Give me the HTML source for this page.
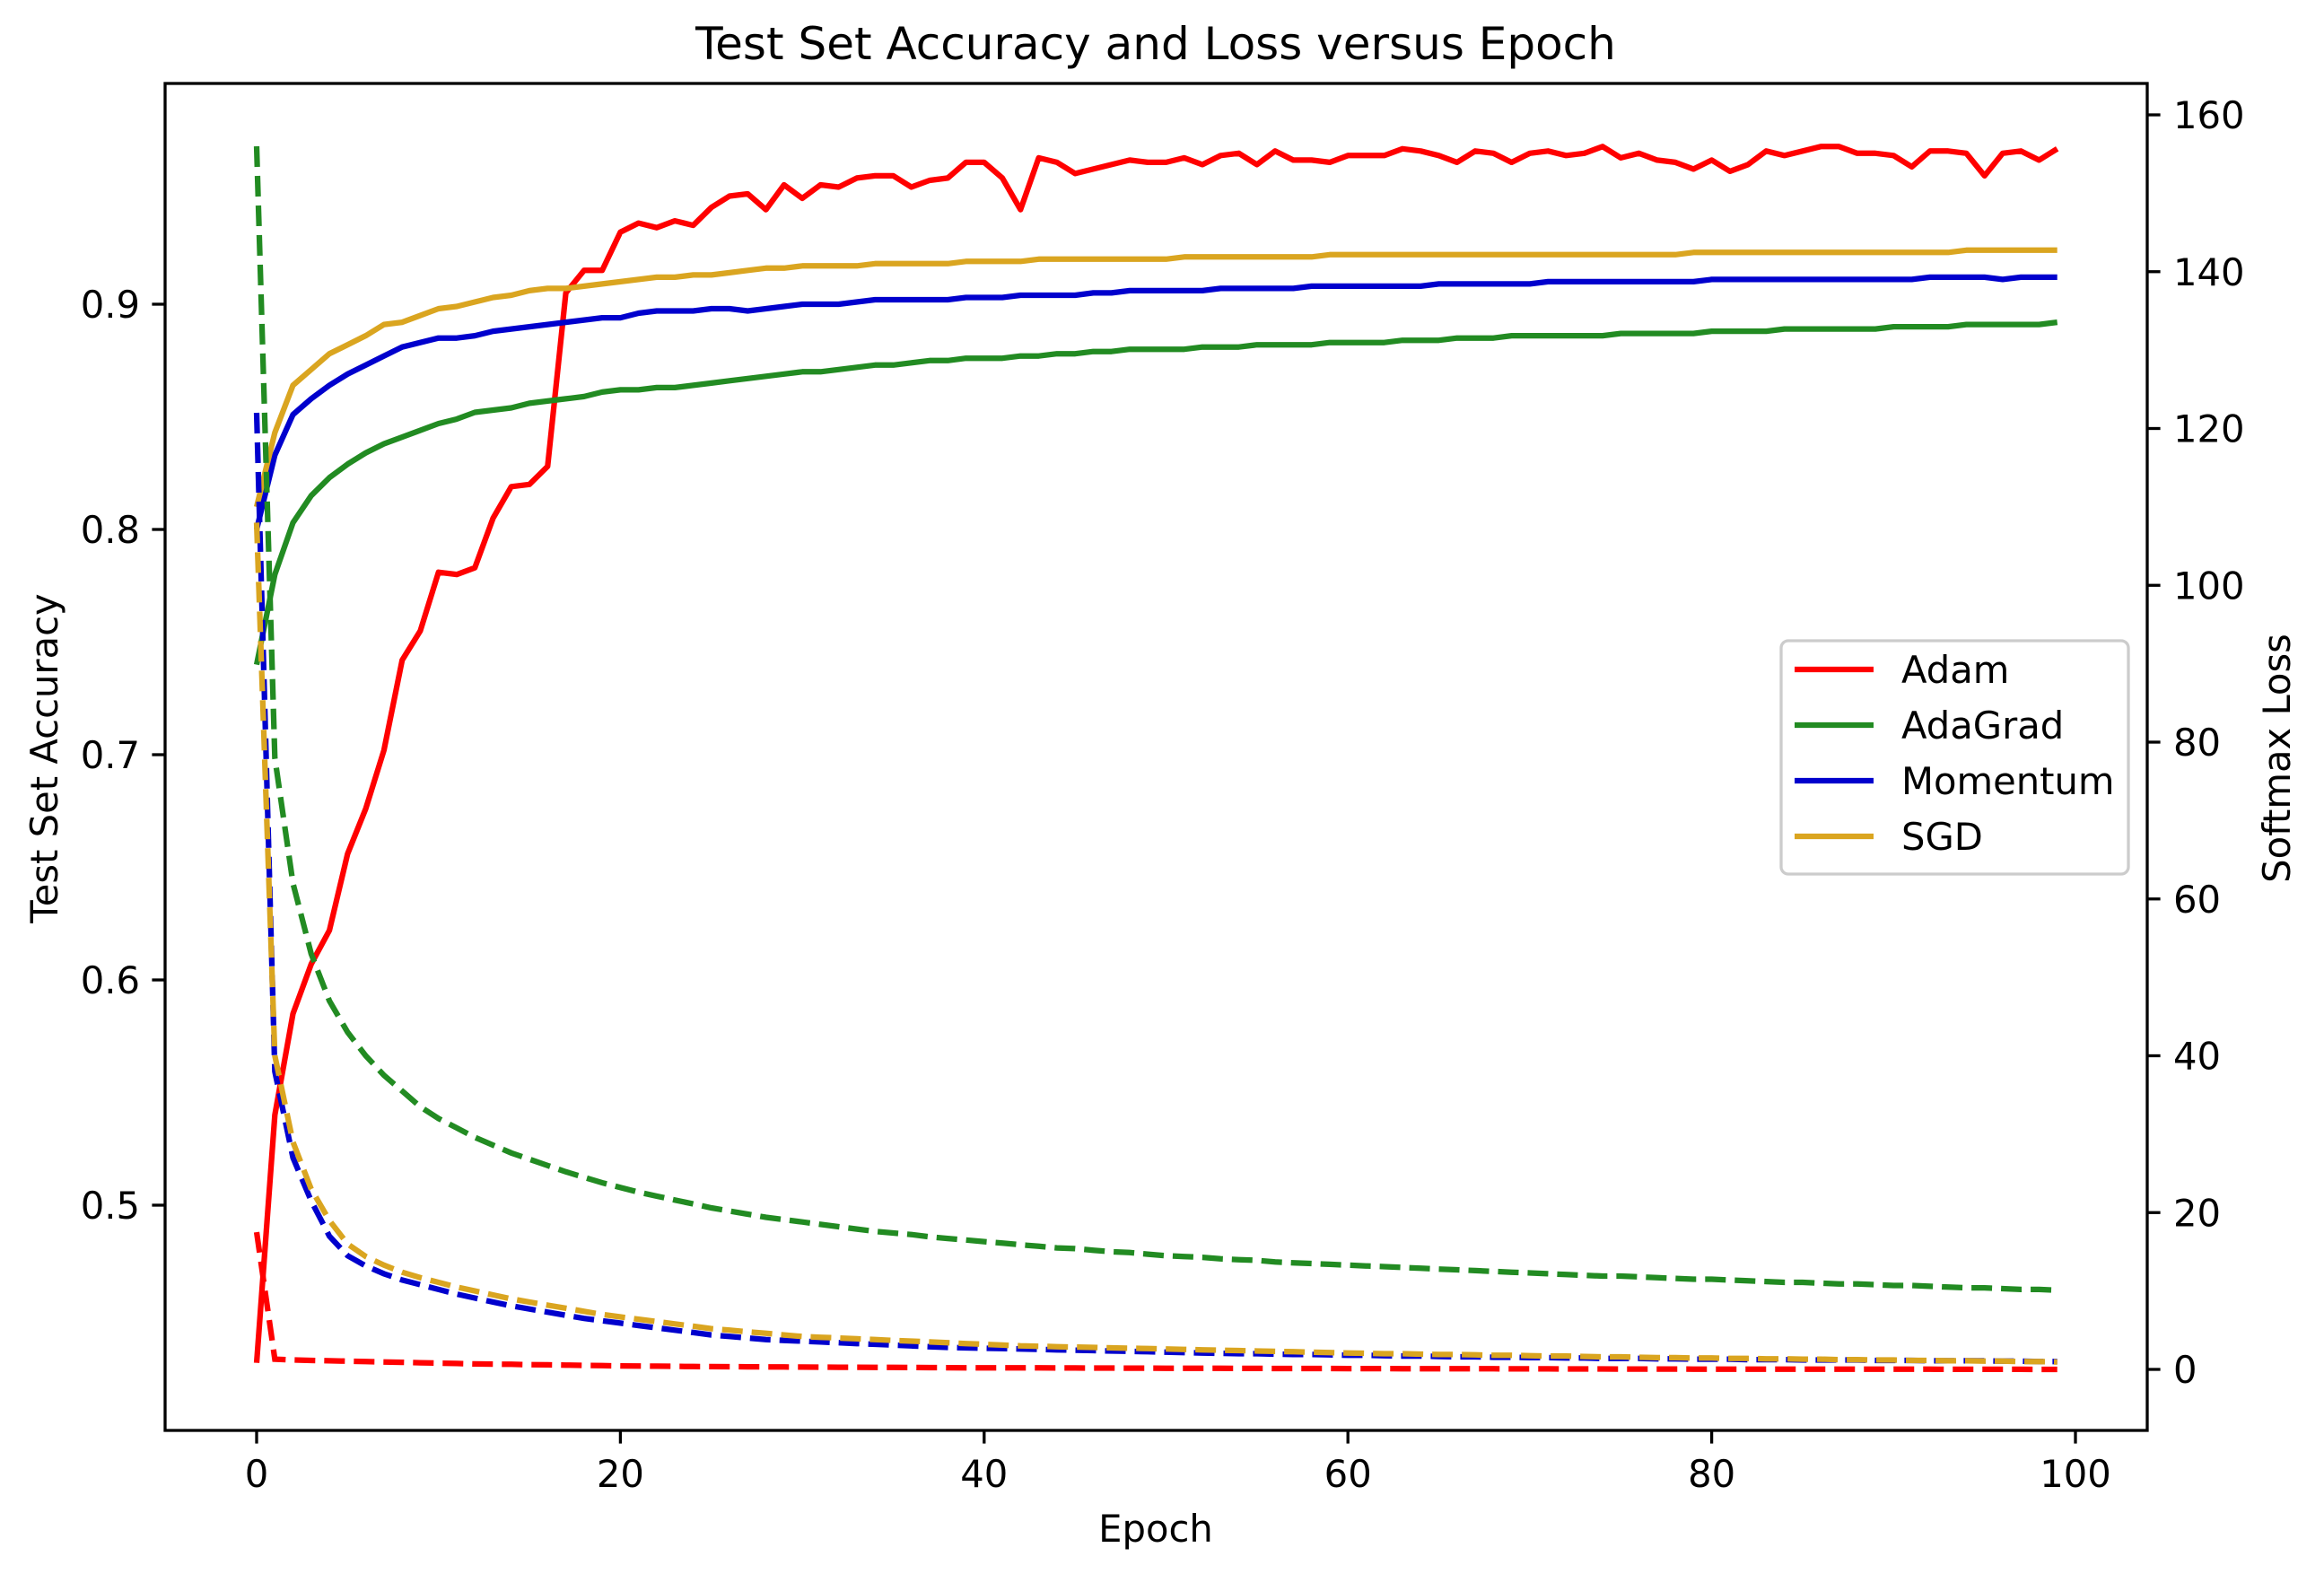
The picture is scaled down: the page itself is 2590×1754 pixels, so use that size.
<!DOCTYPE html>
<html><head><meta charset="utf-8"><style>
html,body{margin:0;padding:0;background:#fff;}
svg{display:block;font-family:"DejaVu Sans","Liberation Sans",sans-serif;}
</style></head><body>
<svg id="chart" width="2590" height="1754" viewBox="0 0 2590 1754" xmlns="http://www.w3.org/2000/svg">
<rect x="0" y="0" width="2590" height="1754" fill="#fff"/>
<text x="1288" y="66" font-size="50" text-anchor="middle">Test Set Accuracy and Loss versus Epoch</text>
<g id="plot"></g>
<text x="1288" y="1718" font-size="41.7" text-anchor="middle">Epoch</text>
<text x="0" y="0" font-size="41.7" text-anchor="middle" transform="translate(64,845) rotate(-90)">Test Set Accuracy</text>
<text x="0" y="0" font-size="41.7" text-anchor="middle" transform="translate(2552,845) rotate(-90)">Softmax Loss</text>
</svg>
<script>
const epochs = Array.from({length:100},(_, i)=>i);
const adamAcc = [0.43,0.54,0.585,0.607,0.622,0.656,0.676,0.702,0.742,0.755,
0.781,0.780,0.783,0.805,0.819,0.820,0.828,0.905,0.915,0.915,
0.932,0.936,0.934,0.937,0.935,0.943,0.948,0.949,0.942,0.953,
0.947,0.953,0.952,0.956,0.957,0.957,0.952,0.955,0.956,0.963,
0.963,0.956,0.942,0.965,0.963,0.958,0.960,0.962,0.964,0.963,
0.963,0.965,0.962,0.966,0.967,0.962,0.968,0.964,0.964,0.963,
0.966,0.966,0.966,0.969,0.968,0.966,0.963,0.968,0.967,0.963,
0.967,0.968,0.966,0.967,0.970,0.965,0.967,0.964,0.963,0.960,
0.964,0.959,0.962,0.968,0.966,0.968,0.970,0.970,0.967,0.967,
0.966,0.961,0.968,0.968,0.967,0.957,0.967,0.968,0.964,0.969];
const adagradAcc = [0.740,0.780,0.803,0.815,0.823,0.829,0.834,0.838,0.841,0.844,
0.847,0.849,0.852,0.853,0.854,0.856,0.857,0.858,0.859,0.861,
0.862,0.862,0.863,0.863,0.864,0.865,0.866,0.867,0.868,0.869,
0.870,0.870,0.871,0.872,0.873,0.873,0.874,0.875,0.875,0.876,
0.876,0.876,0.877,0.877,0.878,0.878,0.879,0.879,0.880,0.880,
0.880,0.880,0.881,0.881,0.881,0.882,0.882,0.882,0.882,0.883,
0.883,0.883,0.883,0.884,0.884,0.884,0.885,0.885,0.885,0.886,
0.886,0.886,0.886,0.886,0.886,0.887,0.887,0.887,0.887,0.887,
0.888,0.888,0.888,0.888,0.889,0.889,0.889,0.889,0.889,0.889,
0.890,0.890,0.890,0.890,0.891,0.891,0.891,0.891,0.891,0.892];
const momentumAcc = [0.800,0.833,0.851,0.858,0.864,0.869,0.873,0.877,0.881,0.883,
0.885,0.885,0.886,0.888,0.889,0.890,0.891,0.892,0.893,0.894,
0.894,0.896,0.897,0.897,0.897,0.898,0.898,0.897,0.898,0.899,
0.900,0.900,0.900,0.901,0.902,0.902,0.902,0.902,0.902,0.903,
0.903,0.903,0.904,0.904,0.904,0.904,0.905,0.905,0.906,0.906,
0.906,0.906,0.906,0.907,0.907,0.907,0.907,0.907,0.908,0.908,
0.908,0.908,0.908,0.908,0.908,0.909,0.909,0.909,0.909,0.909,
0.909,0.910,0.910,0.910,0.910,0.910,0.910,0.910,0.910,0.910,
0.911,0.911,0.911,0.911,0.911,0.911,0.911,0.911,0.911,0.911,
0.911,0.911,0.912,0.912,0.912,0.912,0.911,0.912,0.912,0.912];
const sgdAcc = [0.810,0.843,0.864,0.871,0.878,0.882,0.886,0.891,0.892,0.895,
0.898,0.899,0.901,0.903,0.904,0.906,0.907,0.907,0.908,0.909,
0.910,0.911,0.912,0.912,0.913,0.913,0.914,0.915,0.916,0.916,
0.917,0.917,0.917,0.917,0.918,0.918,0.918,0.918,0.918,0.919,
0.919,0.919,0.919,0.920,0.920,0.920,0.920,0.920,0.920,0.920,
0.920,0.921,0.921,0.921,0.921,0.921,0.921,0.921,0.921,0.922,
0.922,0.922,0.922,0.922,0.922,0.922,0.922,0.922,0.922,0.922,
0.922,0.922,0.922,0.922,0.922,0.922,0.922,0.922,0.922,0.923,
0.923,0.923,0.923,0.923,0.923,0.923,0.923,0.923,0.923,0.923,
0.923,0.923,0.923,0.923,0.924,0.924,0.924,0.924,0.924,0.924];
const adamLoss = [17.5,1.3,1.2,1.15,1.1,1.05,1.0,0.95,0.9,0.85,
0.8,0.75,0.7,0.68,0.65,0.6,0.58,0.55,0.5,0.48,
0.45,0.43,0.41,0.39,0.37,0.35,0.34,0.33,0.32,0.31,
0.3,0.29,0.28,0.27,0.26,0.25,0.24,0.23,0.22,0.21,
0.2,0.2,0.19,0.19,0.18,0.18,0.17,0.17,0.16,0.16,
0.15,0.15,0.14,0.14,0.13,0.13,0.12,0.12,0.11,0.11,
0.1,0.1,0.1,0.09,0.09,0.09,0.08,0.08,0.08,0.07,
0.07,0.07,0.06,0.06,0.06,0.05,0.05,0.05,0.05,0.04,
0.04,0.04,0.04,0.03,0.03,0.03,0.03,0.03,0.02,0.02,
0.02,0.02,0.02,0.01,0.01,0.01,0.01,0.01,0.0,0.0];
const adagradLoss = [156,78,62,53,47,43,40,37.5,35.5,33.5,
32,30.8,29.6,28.6,27.6,26.8,26,25.2,24.5,23.8,
23.2,22.6,22.1,21.6,21.1,20.6,20.2,19.8,19.4,19.1,
18.8,18.5,18.2,17.9,17.6,17.4,17.2,16.9,16.7,16.5,
16.3,16.1,15.9,15.7,15.5,15.4,15.2,15.0,14.9,14.7,
14.5,14.4,14.3,14.1,14.0,13.9,13.7,13.6,13.5,13.4,
13.3,13.2,13.1,13.0,12.9,12.8,12.7,12.6,12.5,12.4,
12.3,12.2,12.1,12.0,11.9,11.9,11.8,11.7,11.6,11.5,
11.5,11.4,11.3,11.2,11.1,11.1,11.0,10.9,10.9,10.8,
10.7,10.7,10.6,10.5,10.4,10.4,10.3,10.2,10.2,10.1];
const momentumLoss = [122,38,27,21.5,17,14.5,13.2,12.2,11.4,10.8,
10.2,9.6,9.1,8.6,8.1,7.7,7.3,6.9,6.5,6.2,
5.9,5.6,5.3,5.0,4.7,4.4,4.2,4.0,3.8,3.7,
3.6,3.5,3.4,3.3,3.2,3.1,3.0,2.9,2.8,2.75,
2.7,2.65,2.6,2.55,2.5,2.45,2.4,2.35,2.3,2.25,
2.2,2.15,2.1,2.05,2.0,2.0,1.95,1.9,1.9,1.85,
1.8,1.8,1.75,1.7,1.7,1.65,1.6,1.6,1.55,1.55,
1.5,1.5,1.45,1.45,1.4,1.4,1.4,1.35,1.35,1.3,
1.3,1.3,1.25,1.25,1.25,1.2,1.2,1.2,1.2,1.15,
1.15,1.15,1.1,1.1,1.1,1.1,1.05,1.05,1.0,1.0];
const sgdLoss = [108,40,29,23,19,16,14.4,13.3,12.4,11.7,
11.1,10.5,10.0,9.5,9.0,8.6,8.2,7.8,7.4,7.0,
6.7,6.4,6.1,5.8,5.5,5.2,5.0,4.8,4.6,4.4,
4.2,4.1,4.0,3.9,3.8,3.7,3.6,3.5,3.4,3.3,
3.2,3.1,3.0,2.95,2.9,2.85,2.8,2.75,2.7,2.65,
2.6,2.55,2.5,2.45,2.4,2.35,2.3,2.25,2.2,2.15,
2.1,2.05,2.0,2.0,1.95,1.9,1.9,1.85,1.8,1.8,
1.75,1.7,1.7,1.65,1.6,1.6,1.55,1.5,1.5,1.45,
1.45,1.4,1.4,1.35,1.35,1.3,1.3,1.25,1.25,1.2,
1.2,1.15,1.15,1.1,1.1,1.05,1.05,1.0,1.0,0.95];
const xTicks = [0,20,40,60,80,100];
const accTicks = [0.5,0.6,0.7,0.8,0.9];
const accTickLabels = ["0.5","0.6","0.7","0.8","0.9"];
const lossTicks = [0,20,40,60,80,100,120,140,160];
const seriesNames = ["Adam","AdaGrad","Momentum","SGD"];

const colors = ["#ff0000","#228b22","#0000cd","#daa520"];
const L=184,R=2393,T=93,B=1594;
function xs(e){return 286+(e-0)*(2313-286)/100;}
function ya(a){return 339+(0.9-a)*2510;}
function yl(v){return 1526-v*(1526-827)/80;}
const NS="http://www.w3.org/2000/svg";
const plot=document.getElementById('plot');
function mk(tag,attrs,parent){const el=document.createElementNS(NS,tag);for(const k in attrs)el.setAttribute(k,attrs[k]);(parent||plot).appendChild(el);return el;}

const clip=mk('clipPath',{id:'clipA'});
mk('rect',{x:L,y:T,width:R-L,height:B-T},clip);

const accSeries=[adamAcc,adagradAcc,momentumAcc,sgdAcc];
const lossSeries=[adamLoss,adagradLoss,momentumLoss,sgdLoss];
accSeries.forEach((s,i)=>{
  const p=mk('polyline',{points:s.map((v,j)=>xs(epochs[j]).toFixed(1)+','+ya(v).toFixed(1)).join(' '),fill:'none',stroke:colors[i],'stroke-width':6.25,'stroke-linejoin':'round','clip-path':'url(#clipA)'});
  
  
});
lossSeries.forEach((s,i)=>{
  const p=mk('polyline',{points:s.map((v,j)=>xs(epochs[j]).toFixed(1)+','+yl(v).toFixed(1)).join(' '),fill:'none',stroke:colors[i],'stroke-width':6.25,'stroke-dasharray':'23 10','clip-path':'url(#clipA)'});
  
  
});

const frame=mk('rect',{x:L,y:T,width:R-L,height:B-T,fill:'none',stroke:'#000','stroke-width':3.3});



xTicks.forEach(t=>{
  const x=xs(t);
  const tk=mk('line',{x1:x,x2:x,y1:B,y2:B+14.6,stroke:'#000','stroke-width':3.3});
  
  
  const lb=mk('text',{x:x,y:1657,'font-size':41.7,'text-anchor':'middle'});
  lb.textContent=String(t);
  
  
});
accTicks.forEach((t,i)=>{
  const y=ya(t);
  const tk=mk('line',{x1:L-14.6,x2:L,y1:y,y2:y,stroke:'#000','stroke-width':3.3});
  
  
  const lb=mk('text',{x:156,y:y+15,'font-size':41.7,'text-anchor':'end'});
  lb.textContent=accTickLabels[i];
  
  
});
lossTicks.forEach(t=>{
  const y=yl(t);
  const tk=mk('line',{x1:R,x2:R+14.6,y1:y,y2:y,stroke:'#000','stroke-width':3.3});
  
  
  const lb=mk('text',{x:2422,y:y+15,'font-size':41.7,'text-anchor':'start'});
  lb.textContent=String(t);
  
  
});

const lg=mk('g',{});


mk('rect',{x:1985,y:714,width:387,height:260,rx:8,fill:'#fff','fill-opacity':0.8,stroke:'#cccccc','stroke-width':3.3},lg);
const entryY=[746,808,870,932];
seriesNames.forEach((n,i)=>{
  const g=mk('g',{},lg);
  
  
  mk('line',{x1:2000,x2:2088,y1:entryY[i],y2:entryY[i],stroke:colors[i],'stroke-width':6.25},g);
  const t=mk('text',{x:2119,y:entryY[i]+15,'font-size':41.7},g);
  t.textContent=n;
});
</script>
</body></html>
